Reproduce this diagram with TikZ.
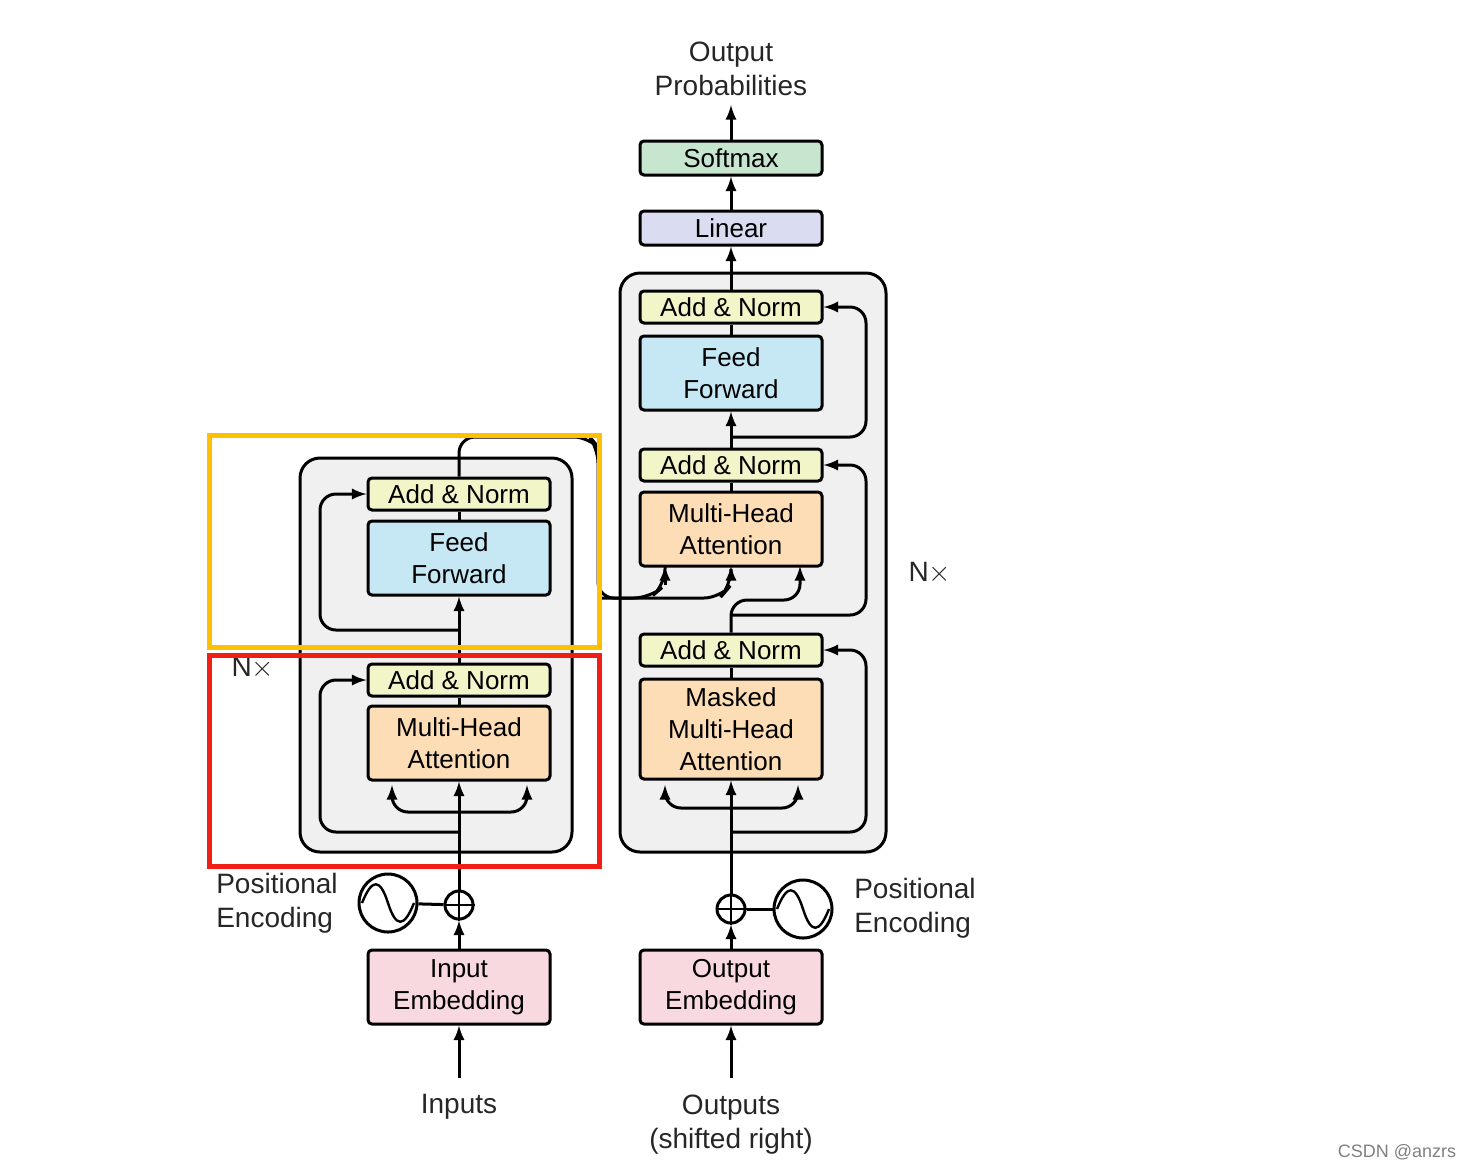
\documentclass[tikz,border=0pt]{standalone}
\usepackage{fontspec}
\setmainfont{Liberation Sans}
\begin{document}
\begin{tikzpicture}[x=0.5pt,y=-0.5pt,
  blk/.style={draw=black,line width=1.5pt,rounded corners=2pt,minimum width=91pt,align=center,font=\fontsize{13}{16}\selectfont,inner sep=0pt},
  an/.style={blk,fill=yellow!15!green!8!white,fill={rgb,255:red,242;green,245;blue,200},minimum height=16pt},
  ff/.style={blk,fill={rgb,255:red,198;green,232;blue,245},minimum height=37pt},
  mha/.style={blk,fill={rgb,255:red,252;green,221;blue,181},minimum height=37pt},
  emb/.style={blk,fill={rgb,255:red,248;green,217;blue,223},minimum height=37pt},
  big/.style={draw=black,line width=1.5pt,rounded corners=10pt,fill=gray!12},
  con/.style={line width=1.5pt,rounded corners=8pt},
  arr/.style={con,-latex},
  lbl/.style={font=\fontsize{14}{17}\selectfont,align=center,text=black!85}]
\useasboundingbox (0,0) rectangle (1470,1169);
% boxes
\draw[big] (300,458) rectangle (572,852);
\draw[big] (620,273) rectangle (886,852);
% encoder nodes
\node[an] (ean2) at (459,494) {Add \& Norm};
\node[ff] (eff) at (459,558) {Feed\\Forward};
\node[an] (ean1) at (459,680) {Add \& Norm};
\node[mha] (emha) at (459,743) {Multi-Head\\Attention};
\node[emb] (iemb) at (459,987) {Input\\Embedding};
\node[draw,line width=1.5pt,circle,minimum size=14pt,inner sep=0pt] (eplus) at (459,905) {};
\draw[line width=1.2pt] (eplus.north)--(eplus.south) (eplus.west)--(eplus.east);
\node[draw,line width=1.5pt,circle,minimum size=29pt,inner sep=0pt] (esin) at (388,903) {};
\draw[line width=1.2pt] (362,903) .. controls (372,878) and (380,878) .. (388,903) .. controls (396,928) and (404,928) .. (414,903);
\node[lbl] (inp) at (459,1107) {Inputs};
\node[lbl,align=left] (epe) at (277,903) {Positional\\Encoding};
\node[lbl] (enx) at (253,668) {N$\times$};
% decoder nodes
\node[an] (dan3) at (731,307) {Add \& Norm};
\node[ff] (dff) at (731,373) {Feed\\Forward};
\node[an] (dan2) at (731,465) {Add \& Norm};
\node[mha] (dmha) at (731,529) {Multi-Head\\Attention};
\node[an] (dan1) at (731,650) {Add \& Norm};
\node[mha,minimum height=50pt] (dmmha) at (731,729) {Masked\\Multi-Head\\Attention};
\node[emb] (oemb) at (731,987) {Output\\Embedding};
\node[blk,fill={rgb,255:red,218;green,221;blue,242},minimum height=17pt] (lin) at (731,228) {Linear};
\node[blk,fill={rgb,255:red,198;green,230;blue,208},minimum height=17pt] (soft) at (731,158) {Softmax};
\node[draw,line width=1.5pt,circle,minimum size=14pt,inner sep=0pt] (dplus) at (731,909) {};
\draw[line width=1.2pt] (dplus.north)--(dplus.south) (dplus.west)--(dplus.east);
\node[draw,line width=1.5pt,circle,minimum size=29pt,inner sep=0pt] (dsin) at (803,909) {};
\draw[line width=1.2pt] (777,909) .. controls (787,884) and (795,884) .. (803,909) .. controls (811,934) and (819,934) .. (829,909);
\node[lbl] (outp) at (731,1125) {Outputs\\(shifted right)};
\node[lbl,align=left] (dpe) at (915,908) {Positional\\Encoding};
\node[lbl] (dnx) at (930,573) {N$\times$};
\node[lbl] (prob) at (731,69) {Output\\Probabilities};
\node[font=\fontsize{9}{11}\selectfont,text=gray] (csdn) at (1397,1152) {CSDN @anzrs};
% coordinates
\coordinate (inb) at (459,1078);
\coordinate (outb) at (731,1078);
\coordinate (probb) at (731,105);
% encoder connectors
\draw[arr] (inb)--(iemb);
\draw[arr] (iemb)--(eplus);
\draw[con] (eplus)--(esin);
\draw[arr] (eplus)--(emha);
\draw[arr] (459,812)-|(392,785);
\draw[arr] (459,812)-|(527,785);
\draw[arr] (459,832)-|(320,680)--(ean1);
\draw[con] (emha)--(ean1);
\draw[arr] (ean1)--(eff);
\draw[arr] (459,630)-|(320,494)--(ean2);
\draw[con] (eff)--(ean2);
\draw[con] (ean2.north)--(459,437)--(590,437)--(598,447)--(598,598)--(650,598)--(665,585)--(665,566);
\draw[arr] (665,585)--(665,566);
\draw[arr] (598,598)--(720,598)--(731,585)--(731,566);
% decoder connectors
\draw[arr] (outb)--(oemb);
\draw[arr] (oemb)--(dplus);
\draw[con] (dplus)--(dsin);
\draw[arr] (dplus)--(dmmha);
\draw[arr] (731,808)-|(665,785);
\draw[arr] (731,808)-|(798,785);
\draw[arr] (731,832)-|(866,650)--(dan1);
\draw[con] (dmmha)--(dan1);
\draw[arr] (dan1.north)--(731,600)-|(800,566);
\draw[arr] (731,615)-|(866,465)--(dan2);
\draw[con] (dmha)--(dan2);
\draw[arr] (dan2)--(dff);
\draw[arr] (731,437)-|(866,307)--(dan3);
\draw[con] (dff)--(dan3);
\draw[arr] (dan3)--(lin);
\draw[arr] (lin)--(soft);
\draw[arr] (soft)--(probb);
% highlights
\draw[line width=2.5pt,draw={rgb,255:red,255;green,192;blue,0}] (209,435) rectangle (599,647);
\draw[line width=2.5pt,draw={rgb,255:red,240;green,30;blue,20}] (209,655) rectangle (599,866);
\end{tikzpicture}
\end{document}
